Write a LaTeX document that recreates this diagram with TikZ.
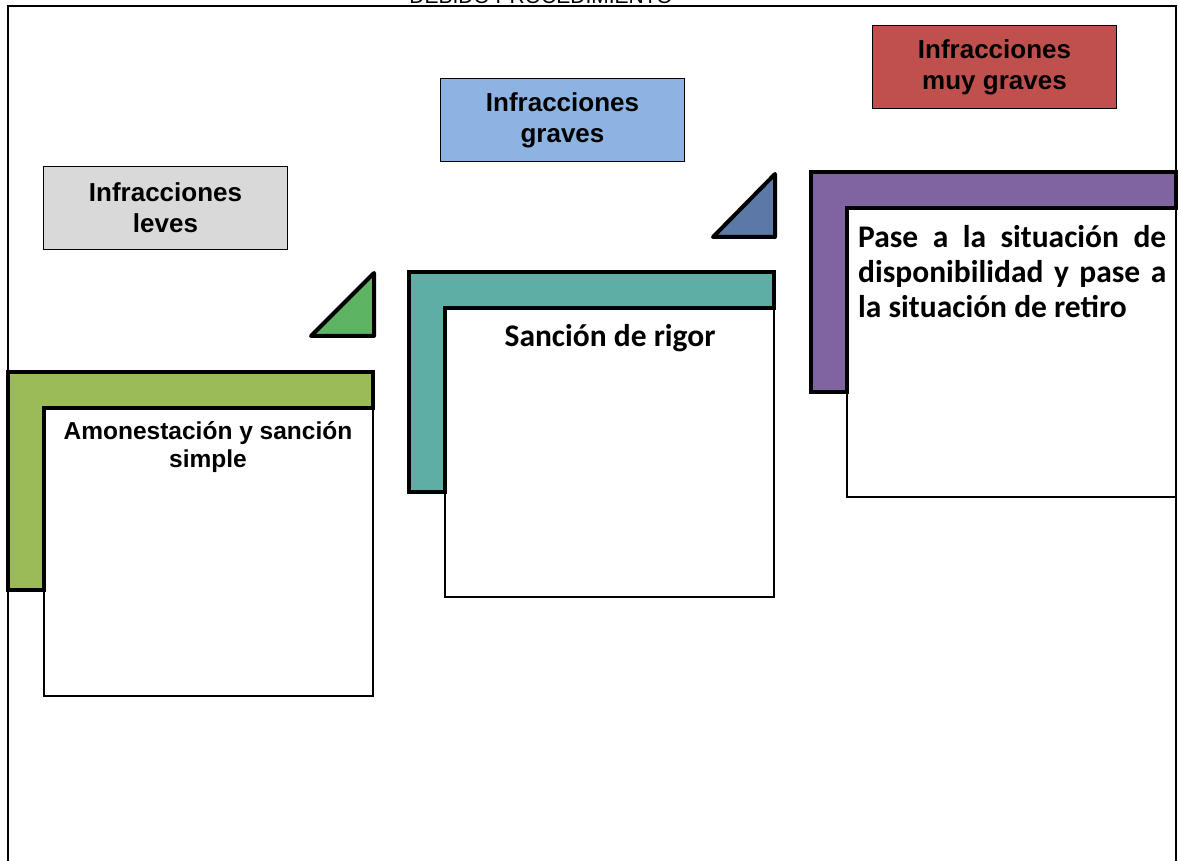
\documentclass[tikz,border=0pt]{standalone}
\usepackage{fontspec}
\setmainfont{Liberation Sans}
\newfontfamily\calib{Carlito}
\definecolor{cgray}{HTML}{D9D9D9}
\definecolor{cblue}{HTML}{8DB3E2}
\definecolor{cred}{HTML}{C0504D}
\definecolor{cgreenL}{HTML}{9BBB59}
\definecolor{ctealL}{HTML}{5EAEA5}
\definecolor{cpurpL}{HTML}{8064A2}
\definecolor{cgreenT}{HTML}{5DB564}
\definecolor{cblueT}{HTML}{5B78A7}
\tikzset{
  labelbox/.style={draw=black, line width=1pt, minimum width=244pt, minimum height=83pt, inner sep=0pt, align=center, font=\fontsize{26}{31}\selectfont\bfseries, anchor=north west},
  whitebox/.style={draw=black, line width=1.3pt, fill=white},
  lshape/.style={draw=black, line width=4pt, line join=miter},
  tri/.style={draw=black, line width=4pt, line join=round},
}
\begin{document}
\begin{tikzpicture}[x=1pt,y=-1pt]
\useasboundingbox (0,0) rectangle (1179,861);
\fill[white] (0,0) rectangle (1179,861);
\clip (0,0) rectangle (1179,861);
% title, cut off at top as in the reference
\node[anchor=base, font=\fontsize{21}{21}\selectfont, inner sep=0pt] (title) at (541,4) {DEBIDO PROCEDIMIENTO};
% outer frame
\draw[line width=2pt] (8,880) -- (8,6) -- (1176,6) -- (1176,880);
% label boxes
\node[labelbox, fill=cgray] (leves) at (43,166) {Infracciones\\leves};
\node[labelbox, fill=cblue] (graves) at (440,78) {Infracciones\\graves};
\node[labelbox, fill=cred] (muygraves) at (872,25) {Infracciones\\muy graves};
% white boxes
\draw[whitebox] (44,408) rectangle (373,696);
\draw[whitebox] (445,308) rectangle (774,597);
\draw[whitebox] (847,208) rectangle (1176,497);
% L shapes
\draw[lshape, fill=cgreenL] (8,372) -- (373,372) -- (373,408) -- (44,408) -- (44,590) -- (8,590) -- cycle;
\draw[lshape, fill=ctealL] (409,272) -- (774,272) -- (774,308) -- (445,308) -- (445,492) -- (409,492) -- cycle;
\draw[lshape, fill=cpurpL] (811,172) -- (1176,172) -- (1176,208) -- (847,208) -- (847,392) -- (811,392) -- cycle;
% triangles
\draw[tri, fill=cgreenT] (311,336) -- (374,273) -- (374,336) -- cycle;
\draw[tri, fill=cblueT] (713,237) -- (775,174) -- (775,237) -- cycle;
% box texts
\node[anchor=north, align=center, inner sep=0pt, font=\fontsize{24.5}{28}\selectfont\bfseries] (amon) at (208,421) {Amonestación y sanción\\simple};
\node[anchor=north, align=center, inner sep=0pt, font=\calib\fontsize{31.5}{35}\selectfont\bfseries] (rigor) at (610,324) {Sanción de rigor};
\node[anchor=north west, align=left, inner sep=0pt, font=\calib\fontsize{31.5}{35}\selectfont\bfseries] (pase) at (858,225) {%
\hbox to 308pt{Pase\hfill a\hfill la\hfill situación\hfill de}\\
\hbox to 308pt{disponibilidad\hfill y\hfill pase\hfill a}\\
la situación de retiro};
\end{tikzpicture}
\end{document}
